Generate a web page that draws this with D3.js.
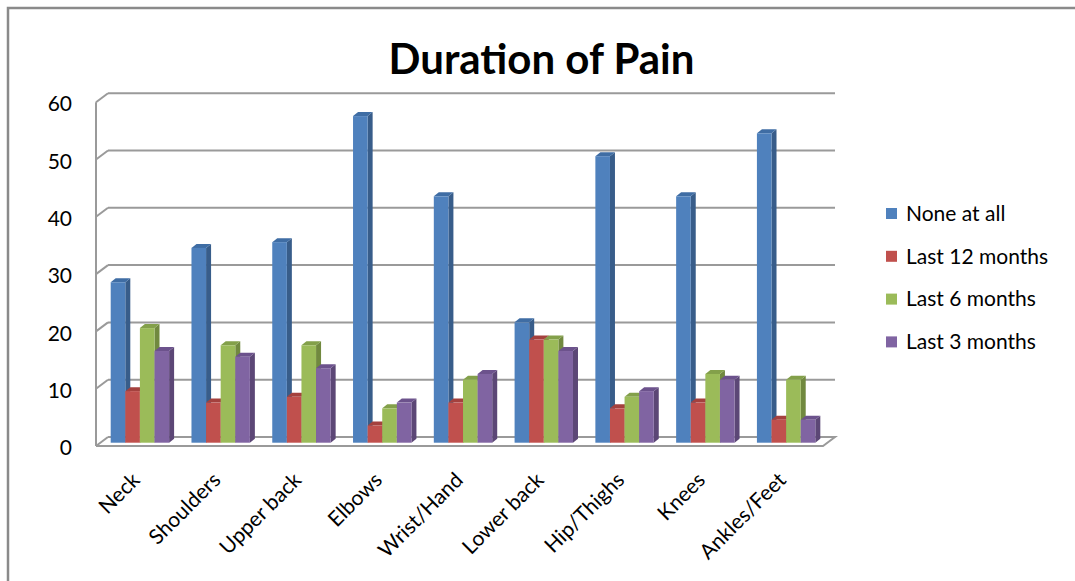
<!DOCTYPE html>
<html>
<head>
<meta charset="utf-8">
<script src="https://cdnjs.cloudflare.com/ajax/libs/d3/7.8.5/d3.min.js"></script>
<style>
  html, body { margin: 0; padding: 0; background: #fff; }
  svg { display: block; font-family: Lato, "Open Sans", sans-serif; }
</style>
</head>
<body>
<svg id="chart" width="1075" height="581"></svg>
<script>
// Body regions and reported pain duration counts
const categories = ["Neck", "Shoulders", "Upper back", "Elbows", "Wrist/Hand",
                    "Lower back", "Hip/Thighs", "Knees", "Ankles/Feet"];
const seriesNames = ["None at all", "Last 12 months", "Last 6 months", "Last 3 months"];
const noneAtAll   = [28, 34, 35, 57, 43, 21, 50, 43, 54];
const last12      = [9, 7, 8, 3, 7, 18, 6, 7, 4];
const last6       = [20, 17, 17, 6, 11, 18, 8, 12, 11];
const last3       = [16, 15, 13, 7, 12, 16, 9, 11, 4];
const yTicks      = [0, 10, 20, 30, 40, 50, 60];
const titleText   = "Duration of Pain";

const seriesValues = [noneAtAll, last12, last6, last3];
const frontColors = ["#4F81BD", "#C0504D", "#9BBB59", "#8064A2"];
const sideColors  = ["#385D8A", "#8C3836", "#71893F", "#5C4776"];
const topColors   = ["#3F6DA4", "#A4413E", "#83A04A", "#6C528C"];

const svg = d3.select("#chart");

// Outer frame (top and left edges)
svg.append("path")
  .attr("d", "M8,581 L8,8 L1075,8")
  .attr("fill", "none").attr("stroke", "#8a8a8a").attr("stroke-width", 2.5);

// 3D geometry: front plane, back wall, and bar plane
const wallDX = 12, wallDY = -9;
const xFront0 = 96, xFront1 = 823;
const yFront = d3.scaleLinear().domain([0, 60]).range([446, 102.2]);
const yBack  = d3.scaleLinear().domain([0, 60]).range([446 + wallDY, 102.2 + wallDY]);
const yBar   = d3.scaleLinear().domain([0, 60]).range([442.7, 98.9]);

const x0 = d3.scaleBand().domain(categories).range([xFront0, xFront1]).padding(0);
const x1 = d3.scaleBand().domain(seriesNames).range([14.7, 14.7 + 58.4]).padding(0);
const barDX = 5, barDY = -4;

// Back wall gridlines and left wall diagonals
const grid = svg.append("g").attr("stroke", "#9a9a9a").attr("stroke-width", 2).attr("fill", "none");
yTicks.forEach(v => {
  if (v > 0) {
    grid.append("line")
      .attr("x1", xFront0 + wallDX).attr("y1", yBack(v))
      .attr("x2", xFront1 + wallDX).attr("y2", yBack(v));
  }
  grid.append("line")
    .attr("x1", xFront0).attr("y1", yFront(v))
    .attr("x2", xFront0 + wallDX).attr("y2", yBack(v));
});
// Left wall front edge
grid.append("line")
  .attr("x1", xFront0).attr("y1", yFront(0))
  .attr("x2", xFront0).attr("y2", yFront(60));
// Floor outline
grid.append("path")
  .attr("d", `M${xFront0},${yFront(0)} L${xFront1},${yFront(0)} L${xFront1 + wallDX},${yBack(0)} L${xFront0 + wallDX},${yBack(0)}`);

// Y axis labels
const yAxis = d3.axisLeft(yFront).tickValues(yTicks).tickSize(0).tickPadding(0).tickFormat(d3.format("d"));
const yg = svg.append("g").attr("transform", "translate(72,2)").call(yAxis);
yg.select(".domain").remove();
yg.selectAll("text").attr("font-size", 21).attr("fill", "#000").attr("font-family", "Lato, sans-serif");

// Bars with front, side and top faces
const groups = svg.append("g").selectAll("g")
  .data(categories)
  .join("g")
  .attr("transform", d => `translate(${x0(d)},0)`);

groups.each(function(cat, ci) {
  const g = d3.select(this);
  seriesNames.forEach((s, si) => {
    const v = seriesValues[si][ci];
    const bx = x1(s), bw = x1.bandwidth();
    const yt = yBar(v), yb = yBar(0);
    // side face
    g.append("path")
      .attr("d", `M${bx + bw},${yb} L${bx + bw + barDX},${yb + barDY} L${bx + bw + barDX},${yt + barDY} L${bx + bw},${yt} Z`)
      .attr("fill", sideColors[si]);
    // top face
    g.append("path")
      .attr("d", `M${bx},${yt} L${bx + barDX},${yt + barDY} L${bx + bw + barDX},${yt + barDY} L${bx + bw},${yt} Z`)
      .attr("fill", topColors[si]);
    // front face
    g.append("rect")
      .attr("x", bx).attr("y", yt)
      .attr("width", bw).attr("height", yb - yt)
      .attr("fill", frontColors[si]);
  });
});

// Category labels, rotated
svg.append("g").selectAll("text")
  .data(categories)
  .join("text")
  .attr("transform", d => `translate(${x0(d) + 14.7 + 29 - 9},${471}) rotate(-45)`)
  .attr("text-anchor", "end")
  .attr("dy", "0.7em")
  .attr("font-size", 21)
  .attr("fill", "#000")
  .text(d => d);

// Title
svg.append("text")
  .attr("x", 541.5).attr("y", 74)
  .attr("text-anchor", "middle")
  .attr("font-size", 42)
  .attr("font-weight", "bold")
  .attr("fill", "#000")
  .text(titleText);

// Legend
const legend = svg.append("g").selectAll("g")
  .data(seriesNames)
  .join("g")
  .attr("transform", (d, i) => `translate(886,${213.5 + i * 42.8})`);
legend.append("rect")
  .attr("x", 0).attr("y", -5.5).attr("width", 11).attr("height", 11)
  .attr("fill", (d, i) => frontColors[i]);
legend.append("text")
  .attr("x", 20).attr("y", 0).attr("dy", "0.35em")
  .attr("font-size", 21).attr("fill", "#000")
  .text(d => d);
</script>
</body>
</html>
